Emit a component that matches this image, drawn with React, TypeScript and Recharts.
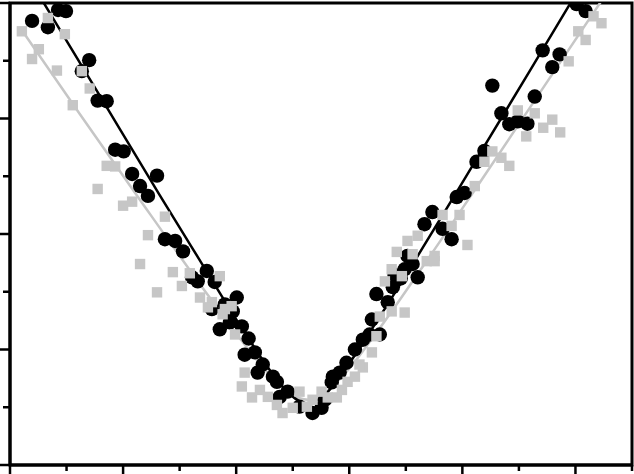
import {
  ComposedChart,
  Line,
  Scatter,
  XAxis,
  YAxis,
  ReferenceArea,
} from 'recharts';

type Pt = { x: number; y: number };

const GRAY = '#c6c6c6';

// tick positions (minor every 1, major every 2) – the frame has no labels
const X_TICKS = [0, 1, 2, 3, 4, 5, 6, 7, 8, 9, 10, 11];
const Y_TICKS = [0, 1, 2, 3, 4, 5, 6, 7, 8];

// black circles
const BLACK_POINTS: Pt[] = [
  { x: 0.39, y: 7.69 }, { x: 0.67, y: 7.58 }, { x: 0.85, y: 7.88 }, { x: 0.99, y: 7.86 },
  { x: 1.4, y: 7.01 }, { x: 1.27, y: 6.82 }, { x: 1.55, y: 6.31 }, { x: 1.71, y: 6.3 },
  { x: 1.86, y: 5.46 }, { x: 2.01, y: 5.43 }, { x: 2.16, y: 5.04 }, { x: 2.6, y: 5.01 },
  { x: 2.3, y: 4.83 }, { x: 2.44, y: 4.66 }, { x: 2.74, y: 3.91 }, { x: 2.92, y: 3.88 },
  { x: 3.06, y: 3.7 }, { x: 3.48, y: 3.36 }, { x: 3.22, y: 3.25 }, { x: 3.32, y: 3.18 },
  { x: 3.62, y: 3.17 }, { x: 4.01, y: 2.9 }, { x: 3.8, y: 2.78 }, { x: 3.57, y: 2.7 },
  { x: 3.94, y: 2.66 }, { x: 3.89, y: 2.47 }, { x: 3.71, y: 2.35 }, { x: 4.1, y: 2.4 },
  { x: 4.22, y: 2.19 }, { x: 4.15, y: 1.91 }, { x: 4.33, y: 1.95 }, { x: 4.47, y: 1.74 },
  { x: 4.38, y: 1.6 }, { x: 4.65, y: 1.53 }, { x: 4.72, y: 1.44 }, { x: 4.91, y: 1.27 },
  { x: 4.77, y: 1.18 }, { x: 5.12, y: 1.01 }, { x: 5.35, y: 0.9 }, { x: 5.51, y: 0.99 },
  { x: 5.57, y: 1.13 }, { x: 5.69, y: 1.43 }, { x: 5.83, y: 1.6 }, { x: 5.95, y: 1.77 },
  { x: 6.1, y: 2.0 }, { x: 6.24, y: 2.17 }, { x: 6.36, y: 2.26 }, { x: 6.4, y: 2.52 },
  { x: 6.48, y: 2.96 }, { x: 6.68, y: 2.82 }, { x: 6.77, y: 3.08 }, { x: 6.8, y: 3.29 },
  { x: 6.91, y: 3.23 }, { x: 6.98, y: 3.39 }, { x: 7.03, y: 3.62 }, { x: 7.12, y: 3.48 },
  { x: 7.21, y: 3.25 }, { x: 7.33, y: 4.17 }, { x: 7.47, y: 4.38 }, { x: 7.65, y: 4.09 },
  { x: 7.81, y: 3.91 }, { x: 7.9, y: 4.64 }, { x: 8.04, y: 4.71 }, { x: 8.25, y: 5.25 },
  { x: 8.39, y: 5.44 }, { x: 8.53, y: 6.57 }, { x: 8.69, y: 6.09 }, { x: 8.83, y: 5.9 },
  { x: 8.98, y: 5.95 }, { x: 9.15, y: 5.91 }, { x: 9.28, y: 6.38 }, { x: 9.42, y: 7.18 },
  { x: 9.59, y: 6.89 }, { x: 9.72, y: 7.11 }, { x: 10.02, y: 7.98 }, { x: 10.18, y: 7.86 },
  { x: 6.54, y: 2.26 }, { x: 5.71, y: 1.53 },
];

// grey squares
const GRAY_POINTS: Pt[] = [
  { x: 0.21, y: 7.51 }, { x: 0.67, y: 7.74 }, { x: 0.97, y: 7.46 }, { x: 0.51, y: 7.2 },
  { x: 0.39, y: 7.03 }, { x: 0.83, y: 6.83 }, { x: 1.27, y: 6.82 }, { x: 1.41, y: 6.52 },
  { x: 1.11, y: 6.23 }, { x: 1.71, y: 5.18 }, { x: 1.86, y: 5.17 }, { x: 1.55, y: 4.78 },
  { x: 2.16, y: 4.56 }, { x: 2.0, y: 4.49 }, { x: 2.74, y: 4.3 }, { x: 2.44, y: 3.98 },
  { x: 2.3, y: 3.48 }, { x: 2.88, y: 3.34 }, { x: 3.18, y: 3.32 }, { x: 3.71, y: 3.27 },
  { x: 2.6, y: 2.99 }, { x: 3.04, y: 3.1 }, { x: 3.36, y: 2.9 }, { x: 3.57, y: 2.82 },
  { x: 3.5, y: 2.73 }, { x: 3.8, y: 2.7 }, { x: 3.92, y: 2.75 }, { x: 3.76, y: 2.61 },
  { x: 3.98, y: 2.26 }, { x: 4.15, y: 1.6 }, { x: 4.1, y: 1.36 }, { x: 4.28, y: 1.17 },
  { x: 4.42, y: 1.3 }, { x: 4.56, y: 1.18 }, { x: 4.72, y: 1.04 }, { x: 4.82, y: 0.9 },
  { x: 5.12, y: 1.27 }, { x: 5.0, y: 0.99 }, { x: 5.25, y: 1.01 }, { x: 5.35, y: 1.13 },
  { x: 5.51, y: 1.27 }, { x: 5.62, y: 1.17 }, { x: 5.78, y: 1.17 }, { x: 5.87, y: 1.3 },
  { x: 5.97, y: 1.44 }, { x: 6.1, y: 1.53 }, { x: 6.24, y: 1.69 }, { x: 6.4, y: 1.95 },
  { x: 6.48, y: 2.23 }, { x: 6.54, y: 2.57 }, { x: 6.63, y: 3.18 }, { x: 6.75, y: 3.39 },
  { x: 6.84, y: 3.69 }, { x: 6.75, y: 2.66 }, { x: 6.98, y: 2.64 }, { x: 6.93, y: 3.27 },
  { x: 7.03, y: 3.88 }, { x: 7.21, y: 3.97 }, { x: 7.12, y: 3.65 }, { x: 7.37, y: 3.53 },
  { x: 7.51, y: 3.53 }, { x: 7.65, y: 4.33 }, { x: 7.81, y: 4.14 }, { x: 7.95, y: 4.33 },
  { x: 8.09, y: 3.81 }, { x: 8.22, y: 4.83 }, { x: 8.39, y: 5.25 }, { x: 8.53, y: 5.43 },
  { x: 8.69, y: 5.32 }, { x: 8.83, y: 5.18 }, { x: 8.98, y: 6.14 }, { x: 9.28, y: 6.09 },
  { x: 9.13, y: 5.69 }, { x: 9.43, y: 5.84 }, { x: 9.59, y: 5.98 }, { x: 9.73, y: 5.76 },
  { x: 9.88, y: 6.99 }, { x: 10.05, y: 7.51 }, { x: 10.18, y: 7.36 }, { x: 10.32, y: 7.77 },
  { x: 10.46, y: 7.65 }, { x: 7.51, y: 3.62 }, { x: 6.18, y: 1.74 },
];

// fitted curves
const BLACK_FIT: Pt[] = [
  { x: 0.53, y: 8.11 }, { x: 1.59, y: 6.39 }, { x: 2.65, y: 4.67 }, { x: 3.36, y: 3.54 },
  { x: 4.06, y: 2.43 }, { x: 4.59, y: 1.65 }, { x: 4.95, y: 1.22 }, { x: 5.27, y: 1.06 },
  { x: 5.57, y: 1.22 }, { x: 5.92, y: 1.65 }, { x: 6.45, y: 2.43 }, { x: 7.16, y: 3.54 },
  { x: 8.13, y: 5.1 }, { x: 9.19, y: 6.82 }, { x: 9.98, y: 8.11 },
];

const GRAY_FIT: Pt[] = [
  { x: 0.18, y: 7.57 }, { x: 1.24, y: 6.07 }, { x: 2.3, y: 4.59 }, { x: 3.36, y: 3.13 },
  { x: 4.06, y: 2.2 }, { x: 4.59, y: 1.56 }, { x: 4.95, y: 1.24 }, { x: 5.27, y: 1.13 },
  { x: 5.57, y: 1.25 }, { x: 5.92, y: 1.58 }, { x: 6.45, y: 2.25 }, { x: 7.24, y: 3.35 },
  { x: 8.3, y: 4.88 }, { x: 9.36, y: 6.43 }, { x: 10.51, y: 8.11 },
];

function XTick(props: any) {
  const { x, y, payload } = props;
  const len = payload.value % 2 === 0 ? 10 : 6;
  return <line x1={x} x2={x} y1={y} y2={y + len} stroke="#000" strokeWidth={2.5} />;
}

function YTick(props: any) {
  const { x, y, payload } = props;
  const len = payload.value % 2 === 0 ? 10 : 7;
  return <line x1={x - len} x2={x} y1={y} y2={y} stroke="#000" strokeWidth={2.5} />;
}

const Circle = (props: any) => <circle cx={props.cx} cy={props.cy} r={7.2} fill="#000" />;
const Square = (props: any) => (
  <rect x={props.cx - 5.2} y={props.cy - 5.2} width={10.4} height={10.4} fill={GRAY} />
);

export default function App() {
  return (
    <div style={{ position: 'absolute', left: 0, top: 0, background: '#fff' }}>
      <ComposedChart width={634} height={474} margin={{ top: 3, right: 2, bottom: 0, left: 0 }}>
        <XAxis
          type="number"
          dataKey="x"
          domain={[0, 11]}
          ticks={X_TICKS}
          interval={0}
          allowDataOverflow
          height={9}
          tickSize={0}
          tickMargin={0}
          tickLine={false}
          tick={<XTick />}
          axisLine={{ stroke: '#000', strokeWidth: 3 }}
        />
        <YAxis
          type="number"
          dataKey="y"
          domain={[0, 8]}
          ticks={Y_TICKS}
          interval={0}
          allowDataOverflow
          width={10}
          tickSize={0}
          tickMargin={0}
          tickLine={false}
          tick={<YTick />}
          axisLine={{ stroke: '#000', strokeWidth: 3 }}
        />
        <ReferenceArea x1={0} x2={11} y1={0} y2={8} fill="none" stroke="#000" strokeWidth={3} />
        <Scatter data={BLACK_POINTS} dataKey="y" shape={<Circle />} isAnimationActive={false} />
        <Scatter data={GRAY_POINTS} dataKey="y" shape={<Square />} isAnimationActive={false} />
        <Line
          data={GRAY_FIT}
          dataKey="y"
          type="monotone"
          stroke={GRAY}
          strokeWidth={2.5}
          dot={false}
          activeDot={false}
          isAnimationActive={false}
        />
        <Line
          data={BLACK_FIT}
          dataKey="y"
          type="monotone"
          stroke="#000"
          strokeWidth={2.5}
          dot={false}
          activeDot={false}
          isAnimationActive={false}
        />
      </ComposedChart>
    </div>
  );
}
